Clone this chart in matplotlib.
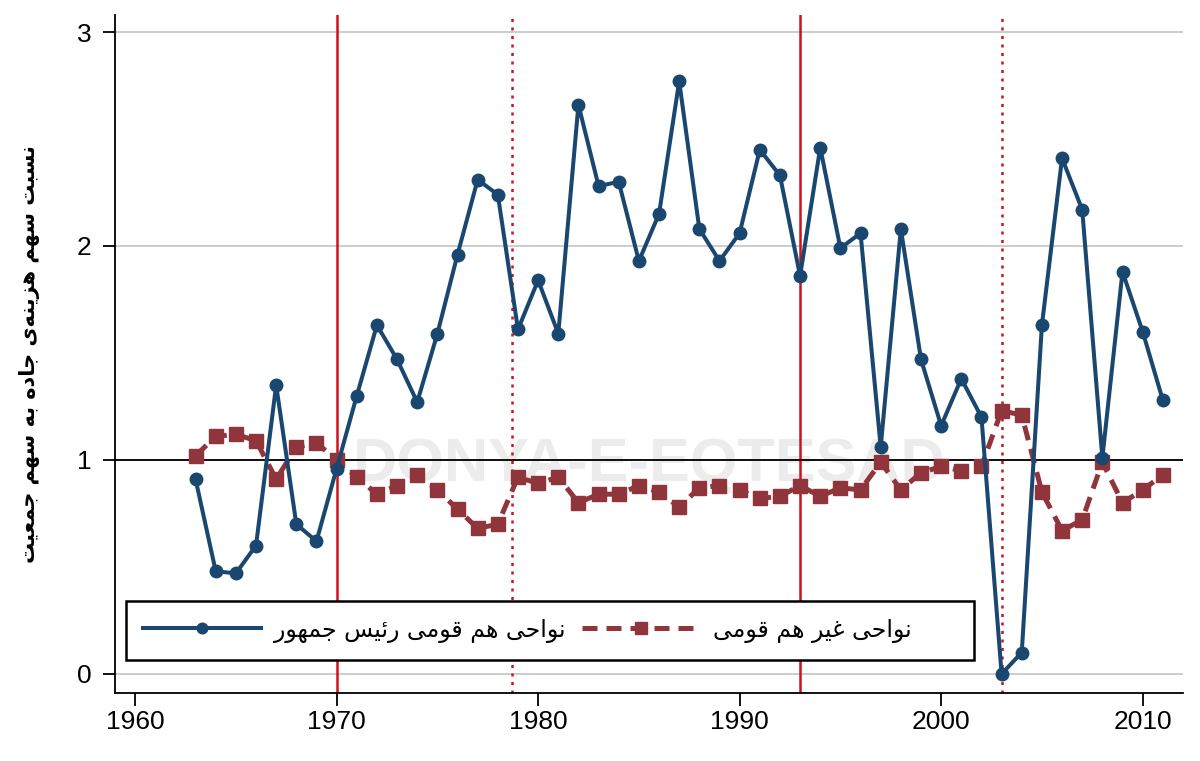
import matplotlib
matplotlib.use("Agg")
import matplotlib.pyplot as plt

# data
years = list(range(1963, 2012))
coethnic = [0.91, 0.48, 0.47, 0.60, 1.35, 0.70, 0.62, 0.96, 1.30, 1.63,
            1.47, 1.27, 1.59, 1.96, 2.31, 2.24, 1.61, 1.84, 1.59, 2.66,
            2.28, 2.30, 1.93, 2.15, 2.77, 2.08, 1.93, 2.06, 2.45, 2.33,
            1.86, 2.46, 1.99, 2.06, 1.06, 2.08, 1.47, 1.16, 1.38, 1.20,
            0.00, 0.10, 1.63, 2.41, 2.17, 1.01, 1.88, 1.60, 1.28]
non_coethnic = [1.02, 1.11, 1.12, 1.09, 0.91, 1.06, 1.08, 1.00, 0.92, 0.84,
                0.88, 0.93, 0.86, 0.77, 0.68, 0.70, 0.92, 0.89, 0.92, 0.80,
                0.84, 0.84, 0.88, 0.85, 0.78, 0.87, 0.88, 0.86, 0.82, 0.83,
                0.88, 0.83, 0.87, 0.86, 0.99, 0.86, 0.94, 0.97, 0.95, 0.97,
                1.23, 1.21, 0.85, 0.67, 0.72, 0.99, 0.80, 0.86, 0.93]
solid_events = [1970, 1993]
dotted_events = [1978.7, 2003]
x_ticks = [1960, 1970, 1980, 1990, 2000, 2010]
y_ticks = [0, 1, 2, 3]

label_own = "نواحی هم قومی رئیس جمهور"
label_other = "نواحی غیر هم قومی"
y_title = "نسبت سهم هزینه\u200cی جاده به سهم جمعیت"

# matplotlib does no arabic shaping, so pick presentation forms by hand
# (isolated, final, initial, medial)
FORMS = {
    'ا': ('\uFE8D', '\uFE8E', None, None),
    'ب': ('\uFE8F', '\uFE90', '\uFE91', '\uFE92'),
    'ت': ('\uFE95', '\uFE96', '\uFE97', '\uFE98'),
    'ج': ('\uFE9D', '\uFE9E', '\uFE9F', '\uFEA0'),
    'ح': ('\uFEA1', '\uFEA2', '\uFEA3', '\uFEA4'),
    'د': ('\uFEA9', '\uFEAA', None, None),
    'ر': ('\uFEAD', '\uFEAE', None, None),
    'ز': ('\uFEAF', '\uFEB0', None, None),
    'س': ('\uFEB1', '\uFEB2', '\uFEB3', '\uFEB4'),
    'ع': ('\uFEC9', '\uFECA', '\uFECB', '\uFECC'),
    'غ': ('\uFECD', '\uFECE', '\uFECF', '\uFED0'),
    'ق': ('\uFED5', '\uFED6', '\uFED7', '\uFED8'),
    'م': ('\uFEE1', '\uFEE2', '\uFEE3', '\uFEE4'),
    'ن': ('\uFEE5', '\uFEE6', '\uFEE7', '\uFEE8'),
    'ه': ('\uFEE9', '\uFEEA', '\uFEEB', '\uFEEC'),
    'و': ('\uFEED', '\uFEEE', None, None),
    'ئ': ('\uFE89', '\uFE8A', '\uFE8B', '\uFE8C'),
    'ی': ('\uFEEF', '\uFEF0', '\uFEF3', '\uFEF4'),
}


def shape(text):
    out = []
    for i, c in enumerate(text):
        if c not in FORMS:
            if c != '\u200c':
                out.append(c)
            continue
        prev = text[i - 1] if i > 0 else None
        nxt = text[i + 1] if i + 1 < len(text) else None
        iso, fin, ini, med = FORMS[c]
        join_prev = prev in FORMS and FORMS[prev][2] is not None
        join_next = ini is not None and nxt in FORMS
        if join_prev and join_next:
            out.append(med)
        elif join_prev:
            out.append(fin)
        elif join_next:
            out.append(ini)
        else:
            out.append(iso)
    return ''.join(reversed(out))


plt.rcParams['font.family'] = ['Liberation Sans', 'DejaVu Sans']

fig = plt.figure(figsize=(12, 7.61), dpi=100)
ax = fig.add_axes([0.0958, 0.0894, 0.89, 0.891])

# watermark text
ax.text(0.5, 0.335, "DONYA-E-EQTESAD", transform=ax.transAxes, ha='center', va='center',
        fontsize=44, fontweight='bold', color='#ececec', zorder=0)

for x in solid_events:
    ax.axvline(x, color='#d0101c', lw=1.8, zorder=1)
for x in dotted_events:
    ax.axvline(x, color='#d0101c', lw=1.8, ls=(0, (1.2, 2.2)), zorder=1)
ax.axhline(1, color='black', lw=1.3, zorder=2)

ax.plot(years, non_coethnic, color='#90353b', lw=3.6, ls=(0, (3.0, 1.8)),
        marker='s', ms=10.5, label=shape(label_other) + '      ', zorder=3)
ax.plot(years, coethnic, color='#1a476f', lw=2.9, marker='o', ms=9,
        label=shape(label_own), zorder=4)

ax.set_xlim(1959.0, 2012.0)
ax.set_ylim(-0.089, 3.08)
ax.set_xticks(x_ticks)
ax.set_yticks(y_ticks)
ax.yaxis.grid(True, color='#c4c4c4', lw=1.2)
ax.set_axisbelow(True)
ax.tick_params(axis='both', labelsize=19, length=9, width=1.3, direction='out')
ax.tick_params(axis='y', pad=8)
ax.spines['top'].set_visible(False)
ax.spines['right'].set_visible(False)
ax.spines['left'].set_linewidth(1.3)
ax.spines['bottom'].set_linewidth(1.3)

ax.set_ylabel(shape(y_title), family='DejaVu Sans', fontsize=15, fontweight='bold', labelpad=26)

handles, labels = ax.get_legend_handles_labels()
leg = ax.legend(handles[::-1], labels[::-1], loc='lower left', bbox_to_anchor=(0.0103, 0.049),
                ncol=2, fancybox=False, framealpha=1, edgecolor='black', borderaxespad=0,
                prop={'family': 'DejaVu Sans', 'size': 17}, handlelength=5.0,
                columnspacing=0.7, handletextpad=0.55, borderpad=0.72, markerscale=0.85)
leg.get_frame().set_linewidth(1.8)

fig.savefig('out.png', dpi=100)
